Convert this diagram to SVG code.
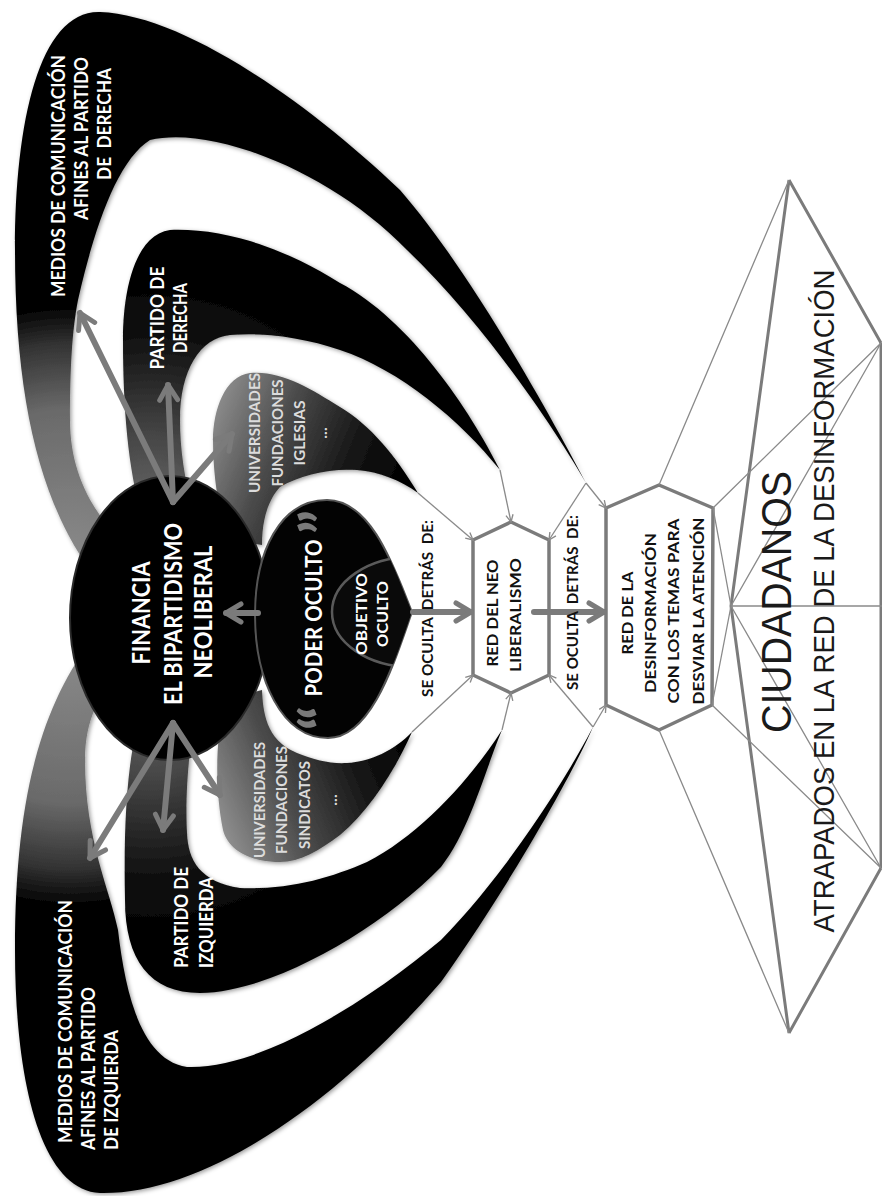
<svg xmlns="http://www.w3.org/2000/svg" width="882" height="1196" viewBox="0 0 882 1196">
<style>
.wb{font-family:Lato,"Open Sans","Liberation Sans",sans-serif;font-weight:bold;fill:#fff}
.lg{font-family:Lato,"Open Sans","Liberation Sans",sans-serif;font-weight:bold;fill:#dcdcdc}
.bk{font-family:Lato,"Open Sans","Liberation Sans",sans-serif;font-weight:bold;fill:#111}
.rg{font-family:"Liberation Sans",Arial,sans-serif;fill:#1a1a1a}
.web{stroke:#8a8a8a;stroke-width:1.3;fill:none}
.arr{stroke:#7b7b7b;stroke-width:6;fill:none;stroke-linecap:round}
.hex{fill:#fff;stroke:#7b7b7b;stroke-width:3.5;stroke-linejoin:round}
.kt{stroke:#7b7b7b;stroke-width:3;fill:none}
.kn{stroke:#8a8a8a;stroke-width:1.3;fill:none}
.q{font-family:Lato,"Liberation Sans",sans-serif;font-weight:bold;fill:#7a7a7a}
</style>
<defs>
<filter id="sh" x="-10%" y="-10%" width="120%" height="120%"><feDropShadow dx="1.5" dy="1.5" stdDeviation="2" flood-color="#000" flood-opacity="0.4"/></filter>
<radialGradient id="gMt" gradientUnits="userSpaceOnUse" cx="70" cy="560" r="300"><stop offset="0" stop-color="#8a8a8a"/><stop offset="0.5" stop-color="#6a6a6a"/><stop offset="0.72" stop-color="#333"/><stop offset="0.85" stop-color="#000"/><stop offset="1" stop-color="#000"/></radialGradient>
<radialGradient id="gMb" gradientUnits="userSpaceOnUse" cx="70" cy="652" r="300"><stop offset="0" stop-color="#8a8a8a"/><stop offset="0.5" stop-color="#6a6a6a"/><stop offset="0.72" stop-color="#333"/><stop offset="0.85" stop-color="#000"/><stop offset="1" stop-color="#000"/></radialGradient>
<radialGradient id="gPt" gradientUnits="userSpaceOnUse" cx="150" cy="540" r="270"><stop offset="0" stop-color="#777"/><stop offset="0.4" stop-color="#444"/><stop offset="0.75" stop-color="#111"/><stop offset="1" stop-color="#000"/></radialGradient>
<radialGradient id="gPb" gradientUnits="userSpaceOnUse" cx="150" cy="672" r="270"><stop offset="0" stop-color="#777"/><stop offset="0.4" stop-color="#444"/><stop offset="0.75" stop-color="#111"/><stop offset="1" stop-color="#000"/></radialGradient>
<linearGradient id="gUt" gradientUnits="userSpaceOnUse" x1="215" y1="400" x2="410" y2="480"><stop offset="0" stop-color="#8e8e8e"/><stop offset="0.35" stop-color="#4a4a4a"/><stop offset="0.7" stop-color="#161616"/><stop offset="1" stop-color="#000"/></linearGradient>
<linearGradient id="gUb" gradientUnits="userSpaceOnUse" x1="215" y1="812" x2="410" y2="732"><stop offset="0" stop-color="#8e8e8e"/><stop offset="0.35" stop-color="#4a4a4a"/><stop offset="0.7" stop-color="#161616"/><stop offset="1" stop-color="#000"/></linearGradient>
<clipPath id="cpod"><path d="M412,612 C395,570 372,500 327,500 C280,500 255,552 255,615 C255,680 282,738 328,738 C372,738 395,660 412,612 Z"/></clipPath>
<marker id="ah" viewBox="0 0 24 24" refX="20" refY="12" markerWidth="24" markerHeight="24" markerUnits="userSpaceOnUse" orient="auto"><path d="M5,3 L20,12 L5,21" fill="none" stroke="#7b7b7b" stroke-width="5" stroke-linecap="round" stroke-linejoin="round"/></marker>
<marker id="sa" viewBox="0 0 10 10" refX="9" refY="5" markerWidth="9" markerHeight="9" markerUnits="userSpaceOnUse" orient="auto"><path d="M1,1 L9,5 L1,9" fill="none" stroke="#8a8a8a" stroke-width="1.5"/></marker>
</defs>
<g id="wingTop" filter="url(#sh)">
<path id="medTop" fill="url(#gMt)" d="M586,483 C550,415 470,270 400,190 C300,95 180,15 100,12 C40,10 15,120 15,250 C15,400 40,500 90,570 L125,545 C90,510 70,470 70,420 C70,370 72,330 78,300 C95,225 118,160 150,140 C210,125 330,170 407,250 C480,320 550,420 586,483 Z"/>
<path id="parTop" fill="url(#gPt)" d="M500,470 C470,410 410,320 340,283 C280,245 220,228 170,230 C135,235 123,290 123,340 C123,420 130,490 150,540 L200,530 C185,490 180,450 180,420 C180,370 200,338 230,335 C265,332 305,338 340,350 C400,370 460,420 500,470 Z"/>
<path id="uniTop" fill="url(#gUt)" d="M418,493 C395,455 370,425 340,407 C310,388 280,370 250,373 C225,376 213,410 213,440 C213,480 220,520 230,540 L262,545 C262,520 268,500 280,487 C300,475 330,468 357,470 C380,472 400,480 418,493 Z"/>
</g>
<g id="wingBottom" filter="url(#sh)">
<path id="medBot" fill="url(#gMb)" d="M593,727 C570,780 500,900 441,982 C330,1110 200,1195 100,1193 C40,1190 15,1080 15,950 C15,800 40,710 90,642 L125,667 C100,690 85,720 85,760 C85,840 110,890 118,930 C125,990 140,1060 187,1067 C260,1070 370,1000 441,940 C500,880 560,790 593,727 Z"/>
<path id="parBot" fill="url(#gPb)" d="M502,730 C485,770 470,830 441,867 C380,930 270,993 200,993 C150,993 125,960 125,900 C123,800 130,730 150,690 L200,700 C188,740 185,800 187,833 C188,860 200,882 240,888 C290,890 330,878 367,862 C420,835 470,780 502,730 Z"/>
<path id="uniBot" fill="url(#gUb)" d="M412,732 C395,770 370,810 340,835 C320,850 300,862 280,862 C250,862 228,850 223,830 C215,790 215,740 225,700 L262,690 C263,710 265,740 297,753 C315,760 330,764 347,763 C370,762 395,750 412,732 Z"/>
</g>
<g id="financia">
<ellipse cx="170" cy="618" rx="100" ry="142" fill="#000" stroke="#2a2a2a" stroke-width="2"/>
</g>
<g id="poder">
<path d="M412,612 C395,570 372,500 327,500 C280,500 255,552 255,615 C255,680 282,738 328,738 C372,738 395,660 412,612 Z" fill="#030303" stroke="#555" stroke-width="2"/>
</g>
<g id="objetivo">
<ellipse cx="412" cy="612" rx="80" ry="55" fill="#0a0a0a" stroke="#5a5a5a" stroke-width="2.5" clip-path="url(#cpod)"/>
</g>
<g id="hex1"><polygon class="hex" points="511,522 549,540 549,675 511,693 473,675 473,540"/></g>
<g id="hex2"><polygon class="hex" points="659,485 713,508 712,705 659,730 606,705 606,508"/></g>
<g id="connectors">
<path class="web" marker-end="url(#sa)" d="M418,493 L473,540"/>
<path class="web" marker-end="url(#sa)" d="M500,470 L511,522"/>
<path class="web" marker-end="url(#sa)" d="M586,483 L549,540"/>
<path class="web" marker-end="url(#sa)" d="M586,483 L606,508"/>
<path class="web" marker-end="url(#sa)" d="M412,732 L473,675"/>
<path class="web" marker-end="url(#sa)" d="M502,730 L511,693"/>
<path class="web" marker-end="url(#sa)" d="M593,727 L549,675"/>
<path class="web" marker-end="url(#sa)" d="M593,727 L606,705"/>
<path class="arr" marker-end="url(#ah)" d="M173,502 L80,313"/>
<path class="arr" marker-end="url(#ah)" d="M173,502 L168,385"/>
<path class="arr" marker-end="url(#ah)" d="M173,502 L232,434"/>
<path class="arr" marker-end="url(#ah)" d="M173,723 L90,858"/>
<path class="arr" marker-end="url(#ah)" d="M173,723 L163,830"/>
<path class="arr" marker-end="url(#ah)" d="M173,723 L220,795"/>
<path class="arr" marker-end="url(#ah)" d="M258,613 L226,613"/>
<path class="arr" marker-end="url(#ah)" d="M413,612 L471,612"/>
<path class="arr" marker-end="url(#ah)" d="M534,612 L604,612"/>
</g>
<g id="ciudadanos">
<path class="kt" d="M789,180 L881,343 M789,1033 L881,868 M789,180 L731,606 L789,1033"/>
<path class="kt" stroke-width="2" d="M881,343 L881,868"/>
<path class="kn" d="M789,180 L659,485 M881,343 L713,508 M881,343 L731,606 M731,606 L882,606 M731,606 L713,508 M731,606 L712,705 M789,1033 L659,730 M881,868 L712,705 M881,868 L731,606"/>
</g>
<g id="labels">
<text class="wb" font-size="19" transform="translate(65,297) rotate(-90)" textLength="242" lengthAdjust="spacingAndGlyphs">MEDIOS DE COMUNICACIÓN</text>
<text class="wb" font-size="19" transform="translate(88,220) rotate(-90)" textLength="163" lengthAdjust="spacingAndGlyphs">AFINES AL PARTIDO</text>
<text class="wb" font-size="19" transform="translate(111,180) rotate(-90)" textLength="112" lengthAdjust="spacingAndGlyphs" xml:space="preserve">DE  DERECHA</text>
<text class="wb" font-size="19" transform="translate(72,1143) rotate(-90)" textLength="243" lengthAdjust="spacingAndGlyphs">MEDIOS DE COMUNICACIÓN</text>
<text class="wb" font-size="19" transform="translate(95,1150) rotate(-90)" textLength="163" lengthAdjust="spacingAndGlyphs">AFINES AL PARTIDO</text>
<text class="wb" font-size="19" transform="translate(118,1150) rotate(-90)" textLength="120" lengthAdjust="spacingAndGlyphs">DE IZQUIERDA</text>
<text class="wb" font-size="18" text-anchor="middle" transform="translate(164,318) rotate(-90)" textLength="103" lengthAdjust="spacingAndGlyphs">PARTIDO DE</text>
<text class="wb" font-size="18" text-anchor="middle" transform="translate(187,318) rotate(-90)" textLength="70" lengthAdjust="spacingAndGlyphs">DERECHA</text>
<text class="wb" font-size="18" transform="translate(188,968) rotate(-90)" textLength="101" lengthAdjust="spacingAndGlyphs">PARTIDO DE</text>
<text class="wb" font-size="18" transform="translate(213,968) rotate(-90)" textLength="91" lengthAdjust="spacingAndGlyphs">IZQUIERDA</text>
<text class="lg" font-size="16" text-anchor="middle" transform="translate(260,433) rotate(-90)" textLength="120" lengthAdjust="spacingAndGlyphs">UNIVERSIDADES</text>
<text class="lg" font-size="16" text-anchor="middle" transform="translate(283,433) rotate(-90)" textLength="107" lengthAdjust="spacingAndGlyphs">FUNDACIONES</text>
<text class="lg" font-size="16" text-anchor="middle" transform="translate(305,433) rotate(-90)" textLength="65" lengthAdjust="spacingAndGlyphs">IGLESIAS</text>
<text class="lg" font-size="16" text-anchor="middle" transform="translate(327,433) rotate(-90)">...</text>
<text class="lg" font-size="16" text-anchor="middle" transform="translate(265,800) rotate(-90)" textLength="116" lengthAdjust="spacingAndGlyphs">UNIVERSIDADES</text>
<text class="lg" font-size="16" text-anchor="middle" transform="translate(287,800) rotate(-90)" textLength="108" lengthAdjust="spacingAndGlyphs">FUNDACIONES</text>
<text class="lg" font-size="16" text-anchor="middle" transform="translate(310,805) rotate(-90)" textLength="88" lengthAdjust="spacingAndGlyphs">SINDICATOS</text>
<text class="lg" font-size="16" text-anchor="middle" transform="translate(337,800) rotate(-90)">...</text>
<text class="wb" font-size="24" text-anchor="middle" transform="translate(150,613) rotate(-90)" textLength="103" lengthAdjust="spacingAndGlyphs">FINANCIA</text>
<text class="wb" font-size="24" text-anchor="middle" transform="translate(182,614) rotate(-90)" textLength="182" lengthAdjust="spacingAndGlyphs">EL BIPARTIDISMO</text>
<text class="wb" font-size="24" text-anchor="middle" transform="translate(212,612) rotate(-90)" textLength="133" lengthAdjust="spacingAndGlyphs">NEOLIBERAL</text>
<text class="wb" font-size="23" text-anchor="middle" transform="translate(322,618) rotate(-90)" textLength="157" lengthAdjust="spacingAndGlyphs">PODER OCULTO</text>
<text class="q" font-size="64" text-anchor="middle" transform="translate(346,718) rotate(-90)">“</text>
<text class="q" font-size="64" text-anchor="middle" transform="translate(346,522) rotate(-90)">”</text>
<text class="wb" font-size="15" text-anchor="middle" transform="translate(367,614) rotate(-90)" textLength="82" lengthAdjust="spacingAndGlyphs">OBJETIVO</text>
<text class="wb" font-size="15" text-anchor="middle" transform="translate(388,614) rotate(-90)" textLength="66" lengthAdjust="spacingAndGlyphs">OCULTO</text>
<text class="bk" font-size="15" transform="translate(433,697) rotate(-90)" textLength="177" lengthAdjust="spacingAndGlyphs" xml:space="preserve">SE OCULTA  DETRÁS  DE:</text>
<text class="bk" font-size="15" transform="translate(578,690) rotate(-90)" textLength="175" lengthAdjust="spacingAndGlyphs" xml:space="preserve">SE OCULTA  DETRÁS  DE:</text>
<text class="bk" font-size="16" text-anchor="middle" transform="translate(498,613) rotate(-90)" textLength="107" lengthAdjust="spacingAndGlyphs">RED DEL NEO</text>
<text class="bk" font-size="16" text-anchor="middle" transform="translate(521,615) rotate(-90)" textLength="114" lengthAdjust="spacingAndGlyphs">LIBERALISMO</text>
<text class="bk" font-size="16" text-anchor="middle" transform="translate(633,613) rotate(-90)" textLength="83" lengthAdjust="spacingAndGlyphs">RED DE LA</text>
<text class="bk" font-size="16" text-anchor="middle" transform="translate(656,613) rotate(-90)" textLength="160" lengthAdjust="spacingAndGlyphs">DESINFORMACIÓN</text>
<text class="bk" font-size="16" text-anchor="middle" transform="translate(679,611) rotate(-90)" textLength="185" lengthAdjust="spacingAndGlyphs">CON LOS TEMAS PARA</text>
<text class="bk" font-size="16" text-anchor="middle" transform="translate(704,611) rotate(-90)" textLength="187" lengthAdjust="spacingAndGlyphs">DESVIAR LA ATENCIÓN</text>
<text class="rg" font-size="42" text-anchor="middle" transform="translate(791,602) rotate(-90)" textLength="262" lengthAdjust="spacingAndGlyphs">CIUDADANOS</text>
<text class="rg" font-size="30" text-anchor="middle" transform="translate(834,601) rotate(-90)" textLength="663" lengthAdjust="spacingAndGlyphs">ATRAPADOS EN LA RED DE LA DESINFORMACIÓN</text>
</g>
</svg>
